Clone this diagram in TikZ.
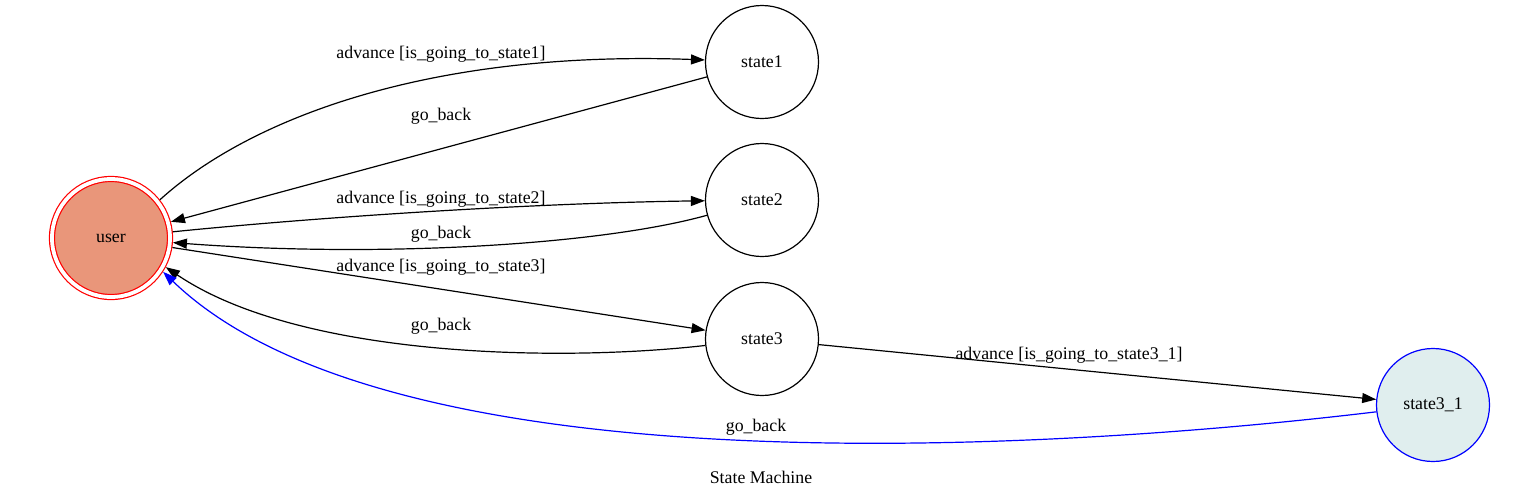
\documentclass[tikz,border=0pt]{standalone}
\usepackage{fontspec}
\setmainfont{Liberation Serif}
\usetikzlibrary{arrows.meta}

\definecolor{usersalmon}{HTML}{E9967A}
\definecolor{leafazure}{HTML}{E0EEEE}
\newcommand{\gvfont}{\fontsize{17.8}{20}\selectfont}

\begin{document}
\begin{tikzpicture}[
  x=1pt, y=-1pt,
  state/.style={circle, draw, line width=1.2pt, minimum size=113pt, inner sep=0pt, font=\gvfont},
  start/.style={state, draw=red, fill=usersalmon, double=white, double distance=3.8pt,
                minimum size=118pt, outer sep=3.1pt},
  trans/.style={line width=1.2pt, -{Triangle[length=14pt, width=10pt]}},
  lbl/.style={font=\gvfont, inner sep=0pt, anchor=base}
]
\useasboundingbox (0,0) rectangle (1535,499);

%% ── States ───────────────────────────────────────────────────────────────────

\node[start] (user) at (111, 238) {user};

\node[state] (state1) at (762,  62) {state1};
\node[state] (state2) at (762, 200) {state2};
\node[state] (state3) at (762, 339) {state3};

\node[state, draw=blue, fill=leafazure] (state31) at (1433, 405) {state3\_1};

%% ── Transitions ──────────────────────────────────────────────────────────────

% user <-> state1
\draw[trans] (user.38) .. controls (250, 118) and (430, 50) .. (state1);
\node[lbl] (adv1) at (441, 58) {advance [is\_going\_to\_state1]};
\draw[trans] (state1) -- (user);
\node[lbl] (back1) at (441, 120) {go\_back};

% user <-> state2
\draw[trans] (user) .. controls (330, 216) and (540, 203) .. (state2);
\node[lbl] (adv2) at (441, 203) {advance [is\_going\_to\_state2]};
\draw[trans] (state2) .. controls (600, 245) and (380, 258) .. (user);
\node[lbl] (back2) at (441, 238) {go\_back};

% user <-> state3
\draw[trans] (user) -- (state3);
\node[lbl] (adv3) at (441, 271) {advance [is\_going\_to\_state3]};
\draw[trans] (state3) .. controls (560, 362) and (300, 358) .. (user.-28);
\node[lbl] (back3) at (441, 330) {go\_back};

% state3 -> state3_1, and back to user
\draw[trans] (state3) -- (state31);
\node[lbl] (adv31) at (1069, 359) {advance [is\_going\_to\_state3\_1]};
\draw[trans, blue] (state31) .. controls (1100, 445) and (400, 500) .. (user.-33);
\node[lbl] (back31) at (756, 431) {go\_back};

% graph caption
\node[lbl] (caption) at (761, 483) {State Machine};

\end{tikzpicture}
\end{document}
